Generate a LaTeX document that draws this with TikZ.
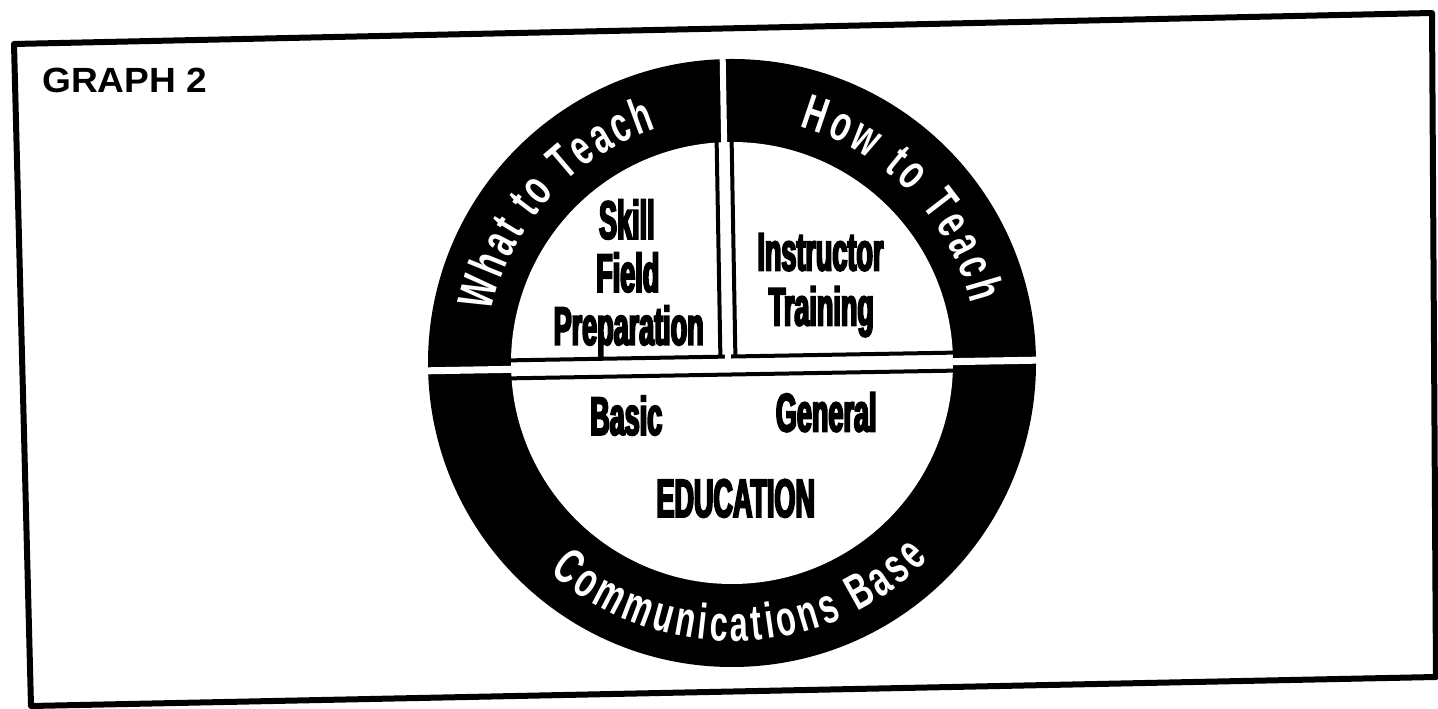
\documentclass[tikz,border=0pt]{standalone}
\usepackage{fontspec}
\setmainfont{Liberation Sans}
\newfontfamily\labelfont[FakeStretch=1.06]{Liberation Sans Bold}
\newfontfamily\bandfont[FakeStretch=0.65]{Liberation Sans Bold}
\newfontfamily\heavyfont[FakeStretch=0.5,FakeBold=3.5]{Liberation Sans Bold}
\usetikzlibrary{decorations.text}

\begin{document}
\begin{tikzpicture}[x=1pt,y=1pt,
    field/.style={font=\heavyfont\fontsize{54}{54}\selectfont, anchor=base, inner sep=0pt},
    ringtext/.style={decorate, decoration={text along path, text align={fit to path},
        text color=white, text={|\bandfont\fontsize{50}{50}\selectfont|#1}}},
    divider/.style={line width=4pt},
    gap/.style={white, line width=7pt}]
      \useasboundingbox (0,0) rectangle (1438,709);

      %draw frame
      \draw[line width=6pt, line join=round] (14,665) -- (1432,696) -- (1436,32) -- (31,3) -- cycle;
      \node[font=\labelfont\fontsize{35}{35}\selectfont, anchor=base west, inner sep=0pt] (title) at (42,616) {GRAPH 2};

      \begin{scope}[rotate around={1:(732,346)}]
      \coordinate (c) at (732,346);

      % ring and inner field
      \fill (c) circle (304);
      \fill[white] (c) circle (221);

      % draw dividers
      \draw[divider] (480,352.5) -- (984,352.5);
      \draw[divider] (480,334.5) -- (984,334.5);
      \draw[divider] (720.5,352.5) -- (720.5,596);
      \draw[divider] (735.5,352.5) -- (735.5,596);
      \draw[gap] (420,343.5) -- (1044,343.5);
      \draw[gap, line width=6pt] (728,343.5) -- (728,660);

      % text on the ring
      \path[ringtext={What to Teach}] ([shift={(167:246)}]c) arc[start angle=167, end angle=107, radius=246];
      \path[ringtext={How to Teach}] ([shift={(73:246)}]c) arc[start angle=73, end angle=13, radius=246];
      \path[ringtext={Communications Base}] ([shift={(228:278)}]c) arc[start angle=228, end angle=314, radius=278];

      % text in the fields
      \node[field] (skill) at (629,472) {Skill};
      \node[field] (fieldprep) at (629,419) {Field};
      \node[field] (prep) at (629,366) {Preparation};
      \node[field] (instructor) at (822,437) {Instructor};
      \node[field] (training) at (822,382) {Training};
      \node[field] (basic) at (625,276) {Basic};
      \node[field] (general) at (825,276) {General};
      \node[field] (education) at (733,192) {EDUCATION};
      \end{scope}
\end{tikzpicture}
\end{document}
